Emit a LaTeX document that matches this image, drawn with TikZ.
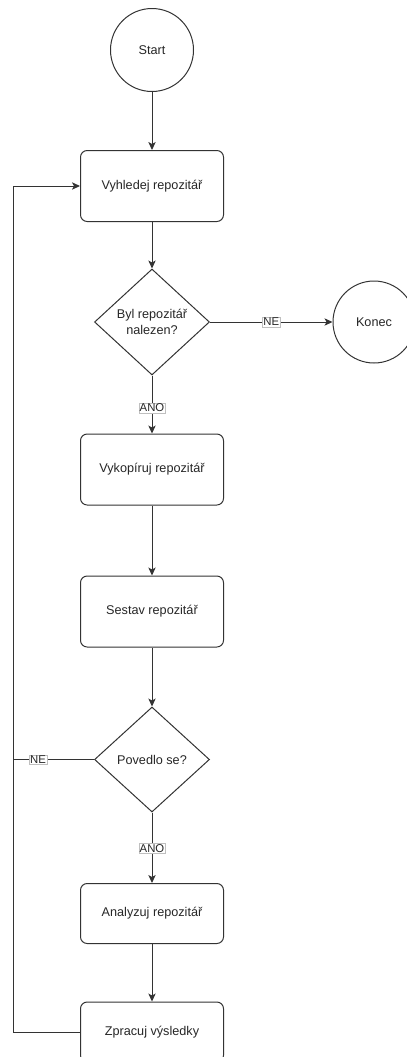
\documentclass[tikz,border=0pt]{standalone}
\usepackage{fontspec}
\setmainfont{Liberation Sans}
\usetikzlibrary{shapes.geometric,arrows.meta}
\begin{document}
\begin{tikzpicture}[x=0.75pt,y=-0.75pt,
  line width=0.75pt,
  every node/.style={font=\fontsize{9.5}{12}\selectfont, text=black!85},
  termnode/.style={circle, draw=black!80, minimum size=62.25pt, inner sep=0pt},
  stepbox/.style={draw=black!80, rounded corners=5pt, minimum width=107.25pt, minimum height=53.25pt, inner sep=0pt},
  shortbox/.style={stepbox, minimum height=45pt},
  decision/.style={diamond, draw=black!80, aspect=1.08, inner sep=0pt, minimum width=86.25pt, minimum height=79.5pt, align=center},
  flow/.style={draw=black!80, -{Stealth[length=6pt,width=5.5pt,inset=1.5pt]}},
  plain/.style={draw=black!80},
  edgelabel/.style={font=\fontsize{8.5}{10}\selectfont, fill=white, draw=black!25, line width=0.3pt, inner sep=0.6pt}
]
\useasboundingbox (0,0) rectangle (407,1057);
\clip (0,0) rectangle (407,1057);

% main column of steps
\node[termnode] (start) at (152,50) {Start};
\node[stepbox] (find) at (152,186) {Vyhledej repozitář};
\node[decision] (found) at (152,322) {Byl repozitář\\nalezen?};
\node[termnode, minimum size=61.5pt] (end) at (374,322) {Konec};
\node[stepbox] (copy) at (152,469.5) {Vykopíruj repozitář};
\node[stepbox] (build) at (152,611.5) {Sestav repozitář};
\node[decision, minimum height=78.75pt] (ok) at (152,759.5) {Povedlo se?};
\node[shortbox] (analyze) at (152,913.5) {Analyzuj repozitář};
\node[shortbox] (process) at (152,1032) {Zpracuj výsledky};

% return path on the left
\coordinate (loopbot) at (13,1032);
\coordinate (looptop) at (13,186);
\coordinate (loopmid) at (13,759.5);

% connectors
\draw[flow] (start) -- (find);
\draw[flow] (find) -- (found);
\draw[flow] (found) -- node[edgelabel, pos=0.56] {ANO} (copy);
\draw[flow] (found) -- node[edgelabel, pos=0.5] {NE} (end);
\draw[flow] (copy) -- (build);
\draw[flow] (build) -- (ok);
\draw[flow] (ok) -- node[edgelabel, pos=0.51] {ANO} (analyze);
\draw[flow] (analyze) -- (process);
\draw[plain] (ok.west) -- node[edgelabel, pos=0.69] {NE} (loopmid);
\draw[flow] (process.west) -- (loopbot) -- (looptop) -- (find.west);
\end{tikzpicture}
\end{document}
